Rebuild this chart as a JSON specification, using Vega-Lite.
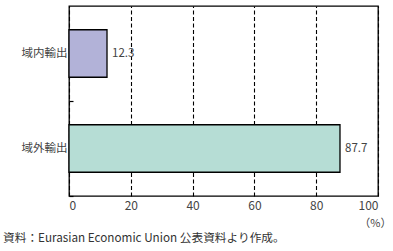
{
  "$schema": "https://vega.github.io/schema/vega-lite/v6.json",
  "width": 309,
  "height": 190,
  "autosize": {"type": "none"},
  "padding": {"left": 69, "top": 6, "right": 15, "bottom": 55},
  "background": "white",
  "config": {
    "font": "Noto Sans CJK JP",
    "view": {"stroke": "black", "strokeWidth": 1.3},
    "axis": {"labelColor": "#444", "labelFontSize": 11.5, "domain": false, "labelFont": "Noto Sans CJK JP"}
  },
  "title": {
    "text": "資料：Eurasian Economic Union 公表資料より作成。",
    "orient": "bottom",
    "anchor": "start",
    "frame": "group",
    "dx": -66,
    "offset": 5,
    "fontSize": 11.7,
    "fontWeight": "normal",
    "color": "#333",
    "font": "Noto Sans CJK JP"
  },
  "data": {
    "values": [
      {"category": "域内輸出", "value": 12.3},
      {"category": "域外輸出", "value": 87.7}
    ]
  },
  "encoding": {
    "y": {
      "field": "category",
      "type": "nominal",
      "sort": ["域内輸出", "域外輸出"],
      "scale": {"paddingInner": 0.5, "paddingOuter": 0.25},
      "axis": {"title": null, "bandPosition": 1.5, "ticks": true, "tickSize": -4, "tickColor": "black", "tickWidth": 1.2, "labelPadding": 6, "labelFontSize": 11.5, "labelColor": "#444"}
    },
    "x": {
      "field": "value",
      "type": "quantitative",
      "scale": {"domain": [0, 100]},
      "axis": {
        "values": [0, 20, 40, 60, 80, 100],
        "ticks": false,
        "grid": true,
        "gridColor": "black",
        "gridDash": [4, 2.5],
        "gridWidth": 1.1,
        "labelPadding": 4,
        "labelFontSize": 12,
        "title": "（%）",
        "titleFontSize": 11,
        "titleFontWeight": "normal",
        "titleColor": "#444",
        "titleAnchor": "end",
        "titleAlign": "right",
        "titleBaseline": "middle",
        "titleX": 322,
        "titleY": 27
      }
    }
  },
  "layer": [
    {
      "mark": {"type": "bar", "stroke": "black", "strokeWidth": 1.3},
      "encoding": {
        "color": {
          "field": "category",
          "type": "nominal",
          "scale": {"domain": ["域内輸出", "域外輸出"], "range": ["#b2b2d8", "#b6ddd5"]},
          "legend": null
        }
      }
    },
    {
      "mark": {"type": "text", "align": "left", "dx": 5, "fontSize": 11.5, "color": "#444"},
      "encoding": {"text": {"field": "value", "type": "quantitative", "format": ".1f"}}
    }
  ]
}
